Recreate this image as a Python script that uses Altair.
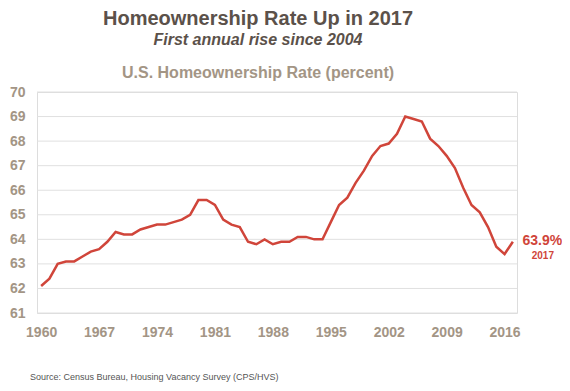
import altair as alt
import pandas as pd

years = list(range(1960, 2018))
rates = [62.1, 62.4, 63.0, 63.1, 63.1, 63.3, 63.5, 63.6, 63.9, 64.3,
         64.2, 64.2, 64.4, 64.5, 64.6, 64.6, 64.7, 64.8, 65.0, 65.6,
         65.6, 65.4, 64.8, 64.6, 64.5, 63.9, 63.8, 64.0, 63.8, 63.9,
         63.9, 64.1, 64.1, 64.0, 64.0, 64.7, 65.4, 65.7, 66.3, 66.8,
         67.4, 67.8, 67.9, 68.3, 69.0, 68.9, 68.8, 68.1, 67.8, 67.4,
         66.9, 66.1, 65.4, 65.1, 64.5, 63.7, 63.4, 63.9]
x_ticks = [1960, 1967, 1974, 1981, 1988, 1995, 2002, 2009, 2016]
y_ticks = [61, 62, 63, 64, 65, 66, 67, 68, 69, 70]

title_text = "Homeownership Rate Up in 2017"
subtitle_text = "First annual rise since 2004"
chart_title = "U.S. Homeownership Rate (percent)"
source_text = "Source: Census Bureau, Housing Vacancy Survey (CPS/HVS)"

RED = "#d0453a"
GRAY = "#a39585"
FONT = "Liberation Sans"

df = pd.DataFrame({"year": years, "rate": rates})
last = df.tail(1).copy()
last["pct"] = last["rate"].map(lambda v: f"{v:.1f}%")
last["yr"] = last["year"].astype(str)
grid_df = pd.DataFrame({"rate": y_ticks})

xscale = alt.Scale(domain=[1959.5, 2017.5], nice=False, zero=False)
yscale = alt.Scale(domain=[61, 70], nice=False, zero=False)

x = alt.X("year:Q", scale=xscale,
          axis=alt.Axis(values=x_ticks, format="d", title=None, grid=False, domain=False,
                        ticks=False, labelFont=FONT, labelFontSize=14, labelFontWeight="bold",
                        labelColor=GRAY, labelPadding=12, labelOverlap=False))
y = alt.Y("rate:Q", scale=yscale,
          axis=alt.Axis(values=y_ticks, title=None, grid=False,
                        domain=False, ticks=False, labelFont=FONT, labelFontSize=14,
                        labelFontWeight="bold", labelColor=GRAY, labelPadding=12,
                        labelOverlap=False))

grid = alt.Chart(grid_df).mark_rule(color="#e0e0e0", strokeWidth=1).encode(
    y=y, x=alt.value(0), x2=alt.value(480))

line = alt.Chart(df).mark_line(color=RED, strokeWidth=2.5).encode(x=x, y=y)

pct = alt.Chart(last).mark_text(align="center", baseline="alphabetic", dx=29.5, dy=3,
                                font=FONT, fontSize=14, fontWeight="bold", color=RED
                                ).encode(x=x, y=y, text="pct:N")
yr = alt.Chart(last).mark_text(align="center", baseline="alphabetic", dx=30, dy=17,
                               font=FONT, fontSize=10, fontWeight="bold", color=RED
                               ).encode(x=x, y=y, text="yr:N")

def label(txt, xp, yp, size, color, italic=False, weight="bold", align="center"):
    d = pd.DataFrame({"t": [txt]})
    return alt.Chart(d).mark_text(align=align, baseline="alphabetic", font=FONT, fontSize=size,
                                  fontWeight=weight, fontStyle="italic" if italic else "normal",
                                  color=color).encode(x=alt.value(xp), y=alt.value(yp), text="t:N")

t1 = label(title_text, 221, 25 - 92, 20, "#5b514a")
t2 = label(subtitle_text, 221, 44.5 - 92, 16, "#5b514a", italic=True)
t3 = label(chart_title, 221, 77.5 - 92, 16, GRAY)
src = label(source_text, 30 - 37, 379.5 - 92, 9, "#555555", weight="normal", align="left")

chart = alt.layer(grid, line, pct, yr, t1, t2, t3, src).properties(
    width=480, height=221,
    autosize=alt.AutoSizeParams(type="none"),
    padding={"left": 29, "top": 84, "right": 45, "bottom": 70},
).configure_view(stroke=None).configure(background="white")

chart.save("out.html", embed_options={"renderer": "svg", "actions": False})
